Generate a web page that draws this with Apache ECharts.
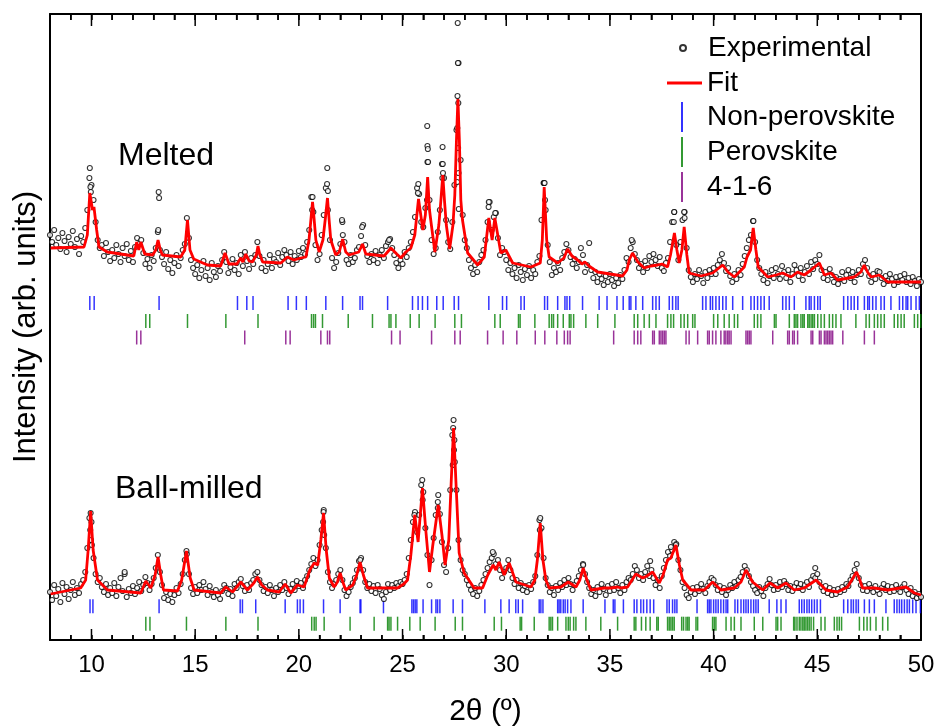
<!DOCTYPE html>
<html><head><meta charset="utf-8">
<script src="https://cdn.jsdelivr.net/npm/echarts@6/dist/echarts.min.js"></script>
<style>html,body{margin:0;padding:0;background:#fff}#chart{width:939px;height:728px}</style>
</head><body><div id="chart"></div>
<script>
// ---------------- DATA ----------------
const X_START = 8, X_STEP = 0.1;   // 2theta grid of the experimental scans
const xMajorTicks = [10, 15, 20, 25, 30, 35, 40, 45, 50];
const X_MIN = 8, X_MAX = 50, X_MINOR = 1;

const meltedExp = [
405,398,410,395,402,391,407,399,388,403,
396,409,393,401,386,404,398,412,430,462,
455,440,418,400,392,395,384,397,388,379,
390,382,395,386,378,392,384,396,380,389,
378,393,402,396,400,387,376,381,372,385,
379,392,408,390,383,376,388,371,380,367,
377,385,374,382,390,396,422,402,380,372,
366,375,362,370,379,364,372,360,377,368,
363,374,369,380,388,378,367,373,381,370,
377,366,385,374,388,379,371,382,376,385,
398,384,372,380,369,376,385,372,381,378,
387,375,383,390,385,379,388,376,384,380,
389,383,392,386,398,410,443,428,395,380,
386,405,425,452,430,400,382,372,378,387,
396,418,398,380,376,385,378,382,390,393,
404,415,395,384,378,386,380,389,377,385,
390,382,394,398,401,392,385,377,372,380,
376,388,383,392,398,408,423,452,446,418,
413,432,478,440,400,386,392,408,430,476,
462,420,398,391,418,455,510,577,480,425,
400,392,380,372,366,375,368,378,385,390,
400,418,438,410,423,427,402,385,392,388,
380,370,377,366,372,362,375,368,360,371,
365,374,362,370,366,378,384,420,457,430,
395,378,365,372,368,377,370,382,388,396,
390,383,376,381,372,378,392,385,368,375,
397,370,362,368,358,366,361,355,364,358,
366,360,354,362,357,365,361,370,382,378,
392,398,386,380,372,376,368,379,372,384,
378,386,380,374,383,372,369,377,382,398,
418,428,395,380,398,420,428,392,370,363,
358,366,361,370,364,357,368,362,370,366,
372,366,375,380,386,377,369,372,364,358,
366,361,370,365,376,384,392,400,405,419,
398,380,372,366,360,368,357,364,370,362,
372,366,361,374,368,362,370,358,366,375,
370,364,372,360,368,374,366,378,371,380,
376,385,370,362,368,360,371,365,358,363,
356,361,368,359,365,370,362,368,358,365,
370,366,376,380,372,364,358,366,361,369,
368,362,356,364,359,366,361,355,363,358,
364,360,366,358,362,356,363,359,354,361,
358];

const meltedExtra = [[9.92,472],[9.95,453],[9.97,448],[13.24,448],[13.26,442],[13.22,410],[20.66,443],[20.64,430],
[21.37,472],[21.36,456],[21.4,449],[25.76,456],[25.74,447],[26.19,514],[26.2,494],[26.22,491],[26.23,478],[26.18,440],
[26.93,493],[26.94,476],[26.95,467],[26.92,462],[27.66,617],[27.67,577],[27.65,544],[27.64,512],[27.69,537],[27.68,492],
[27.7,467],[27.63,458],[27.71,431],[29.16,438],[29.15,433],[29.47,427],[31.82,457],[31.85,457],[31.87,440],[38.1,428],
[38.08,418],[38.58,428],[38.6,422],[41.92,419],[36.05,400],[24.35,400],[22.08,420],[22.12,405],[23.05,413]];

const ballExp = [
48,40,55,44,51,38,57,46,53,41,
50,58,45,52,47,56,60,68,92,122,
118,82,66,58,62,53,48,56,45,52,
47,57,44,53,62,49,66,43,51,47,
54,46,52,58,49,55,63,57,50,56,
62,72,85,68,55,42,48,40,46,38,
45,52,47,56,66,80,86,66,52,46,
53,47,55,50,58,51,45,54,48,43,
50,45,41,49,55,52,46,51,44,56,
52,58,61,54,49,55,50,57,60,66,
68,60,55,49,53,47,55,50,44,52,
48,55,50,58,52,46,51,56,50,59,
54,57,52,60,64,70,76,82,74,80,
95,110,130,92,68,58,52,56,60,66,
70,60,50,44,48,53,57,62,70,79,
82,70,58,52,56,49,54,47,55,51,
45,41,48,56,50,55,52,57,54,58,
56,60,66,82,100,118,128,108,125,155,
148,112,85,55,80,102,125,138,126,98,
75,68,92,150,205,200,150,100,80,70,
66,60,55,50,46,52,44,49,55,60,
66,72,78,82,86,76,80,70,62,68,
72,80,70,62,56,60,52,57,50,54,
48,55,51,58,64,85,120,112,82,62,
55,48,52,45,54,50,57,53,60,55,
62,56,50,55,59,64,70,76,66,58,
52,46,50,44,53,48,56,51,45,54,
49,56,50,58,52,47,55,50,58,62,
60,66,74,70,62,66,60,68,74,64,
70,62,55,60,52,64,72,80,88,84,
90,98,96,80,70,58,52,45,42,48,
52,46,53,49,56,51,47,54,58,62,
60,55,50,54,48,52,45,50,55,52,
58,54,60,63,68,74,70,64,58,54,
50,47,53,49,44,52,56,61,55,50,
55,51,58,53,59,56,50,54,49,53,
57,52,56,50,55,58,53,60,64,62,
66,58,53,49,54,47,52,45,50,46,
51,48,53,50,56,54,60,64,70,76,
62,55,50,54,49,56,52,48,54,50,
46,52,56,50,54,48,53,49,55,51,
48,53,56,50,46,52,44,48,42,46,
43];

const ballExtra = [[9.96,127],[9.94,110],[9.98,100],[10.02,95],[21.19,128],[21.17,118],[21.22,105],[25.57,125],
[25.95,160],[25.97,140],[26.72,145],[26.7,132],[27.46,220],[27.44,212],[27.48,190],[27.42,175],[27.52,178],
[31.64,122],[31.62,110],[38.18,95],[37.94,93],[33.71,75],[22.96,80],[14.58,89],[11.6,68],[36.94,79],[44.9,72],[29.35,88]];

const meltedFit = [[8.03,392],[9.64,393],[9.8,405],[9.92,447],[10.05,430],[10.12,433],[10.25,410],[10.36,393],[10.77,388],
[12.04,384],[12.18,398],[12.28,390],[12.38,398],[12.57,386],[12.95,385],[13.1,390],[13.21,400],[13.32,390],[13.42,385],
[14.3,383],[14.5,390],[14.63,420],[14.75,390],[14.93,381],[15.59,375],[16.23,374],[16.44,387],[16.63,376],[17.01,376],
[17.2,382],[17.3,378],[17.44,386],[17.6,379],[17.76,378],[17.95,385],[18.03,394],[18.12,385],[18.26,378],[19.13,377],
[19.45,383],[19.76,380],[20.09,382],[20.34,383],[20.49,400],[20.58,420],[20.66,438],[20.74,420],[20.82,400],[20.98,388],
[21.16,400],[21.28,422],[21.38,442],[21.46,420],[21.54,400],[21.78,385],[21.95,388],[22.11,401],[22.26,388],[22.42,385],
[22.89,388],[23.07,396],[23.23,386],[24.11,384],[24.44,392],[24.72,386],[24.92,382],[25.16,388],[25.4,392],[25.59,405],
[25.77,441],[25.98,410],[26.1,425],[26.21,463],[26.3,430],[26.39,415],[26.56,388],[26.75,415],[26.85,440],[26.94,465],
[27.02,440],[27.11,415],[27.27,391],[27.43,415],[27.52,445],[27.6,500],[27.67,541],[27.74,500],[27.81,440],[27.89,420],
[28.14,387],[28.62,375],[28.94,383],[29.16,422],[29.32,400],[29.45,422],[29.74,387],[29.98,390],[30.31,377],[31.19,373],
[31.64,377],[31.74,400],[31.83,453],[31.95,400],[32.07,383],[32.48,377],[32.78,382],[32.96,391],[33.17,384],[33.44,380],
[33.65,376],[33.79,378],[33.99,374],[34.41,368],[35.61,364],[35.82,370],[35.93,380],[36.09,387],[36.35,378],[36.65,372],
[36.98,374],[37.3,375],[37.51,376],[37.78,373],[37.92,385],[38.11,407],[38.23,390],[38.34,377],[38.47,390],[38.58,413],
[38.71,385],[38.82,367],[39.39,364],[39.95,367],[40.44,375],[40.69,368],[41.0,363],[41.48,373],[41.61,383],[41.78,390],
[41.91,412],[42.04,390],[42.15,373],[42.61,363],[43.01,365],[43.33,367],[43.73,363],[44.05,368],[44.37,365],[44.7,370],
[45.1,377],[45.34,365],[45.66,367],[45.98,360],[46.78,363],[47.1,368],[47.26,375],[47.42,368],[47.59,363],[47.99,365],
[48.4,358],[50.0,358]];

const ballFit = [[8.03,46],[9.48,52],[9.72,60],[9.84,90],[9.96,129],[10.08,90],[10.29,60],[10.77,50],[12.38,47],[12.62,59],
[12.86,52],[13.07,65],[13.21,83],[13.34,65],[13.47,50],[14.15,49],[14.35,60],[14.58,89],[14.76,62],[14.95,50],[16.23,47],
[16.48,53],[16.8,48],[17.2,58],[17.52,50],[17.83,57],[18.0,63],[18.21,55],[18.49,50],[19.05,48],[19.34,56],[19.61,47],
[19.93,55],[20.25,53],[20.53,70],[20.74,77],[20.91,75],[21.06,100],[21.19,127],[21.32,90],[21.47,62],[21.7,53],[21.86,58],
[21.99,67],[22.12,58],[22.26,50],[22.6,55],[22.79,65],[22.95,78],[23.11,65],[23.31,52],[24.76,52],[25.06,56],[25.24,60],
[25.4,85],[25.59,125],[25.75,98],[25.96,152],[26.12,110],[26.3,68],[26.46,95],[26.72,135],[26.9,105],[27.05,75],[27.23,100],
[27.35,160],[27.46,212],[27.57,160],[27.73,87],[27.97,67],[28.45,52],[28.86,52],[29.11,65],[29.37,75],[29.5,70],[29.66,78],
[29.9,65],[30.14,77],[30.47,58],[31.19,53],[31.38,60],[31.5,80],[31.64,117],[31.77,80],[31.91,60],[32.07,52],[32.64,53],
[32.99,58],[33.36,53],[33.55,60],[33.71,72],[33.89,60],[34.08,50],[34.72,52],[35.05,52],[35.37,53],[35.53,52],[35.85,53],
[36.25,66],[36.58,62],[36.78,64],[37.06,68],[37.38,57],[37.56,65],[37.78,80],[37.94,82],[38.18,95],[38.35,75],[38.51,60],
[38.91,50],[39.55,50],[39.95,58],[40.35,50],[41.0,52],[41.32,58],[41.56,70],[41.88,58],[42.37,50],[42.72,57],[43.09,52],
[43.49,57],[43.89,50],[44.37,52],[44.94,60],[45.42,50],[45.98,48],[46.46,53],[46.72,62],[46.89,68],[47.05,60],[47.18,52],
[47.75,52],[48.4,50],[49.28,53],[49.68,47],[50.0,45]];

// Bragg reflection positions (2theta)
const meltedNonPerov = [9.92,10.13,13.26,17.04,17.49,17.79,19.48,19.88,20.36,21.30,22.11,22.95,23.07,24.28,25.48,25.75,25.96,
26.21,26.65,26.96,27.49,27.70,29.16,29.82,30.02,30.71,30.87,31.85,31.99,32.48,32.83,32.93,33.06,33.68,34.48,34.86,35.34,35.64,
35.93,36.01,36.25,36.58,37.06,37.22,37.38,37.86,38.02,38.18,38.29,39.47,39.63,39.84,39.95,40.11,40.27,40.44,40.60,40.92,41.40,
41.80,41.96,42.12,42.28,42.44,42.68,43.33,43.49,43.65,43.89,44.45,44.61,44.70,44.86,45.02,45.14,46.27,46.47,46.63,46.78,46.95,
47.27,47.43,47.51,47.67,47.83,48.07,48.23,48.55,48.96,49.12,49.28,49.36,49.52,49.76,49.92];
const meltedPerov = [12.62,12.81,14.63,16.48,18.03,20.61,20.71,20.80,21.14,22.38,23.55,24.35,24.44,24.68,25.37,25.80,26.57,
27.52,27.84,29.45,29.71,30.59,30.67,31.38,32.07,32.19,32.28,32.48,32.75,33.04,33.12,33.25,33.84,34.41,35.24,36.17,36.34,36.65,
36.90,37.22,37.78,37.94,38.07,38.42,38.58,38.75,38.99,39.10,40.00,40.20,40.51,40.75,41.00,41.16,41.96,42.12,42.28,42.93,43.01,
43.65,43.89,43.97,44.05,44.21,44.30,44.37,44.54,44.61,44.70,44.78,44.86,45.02,45.18,45.34,45.58,45.74,45.90,46.14,46.86,47.35,
47.51,47.75,47.91,48.07,48.23,48.71,48.88,49.04,49.19,49.68,49.84,49.99];
const melted416 = [12.18,12.38,17.39,19.37,19.58,21.06,21.38,21.49,24.47,24.88,26.40,27.52,27.78,29.10,29.85,30.51,31.40,31.86,
32.44,32.80,32.96,33.08,35.18,36.17,36.34,36.49,37.06,37.14,37.38,37.46,37.54,37.62,37.70,38.67,38.82,39.23,39.71,39.79,39.95,
40.11,40.35,40.51,40.59,40.68,40.75,40.84,41.56,41.64,41.72,41.80,42.85,43.57,43.65,43.81,43.89,44.05,44.70,44.78,45.10,45.18,
45.34,45.42,45.50,45.58,45.66,45.74,46.23,47.27,47.75];
const ballNonPerov = [9.93,10.07,13.26,17.17,17.28,17.92,19.34,19.93,20.06,20.22,21.19,21.99,22.95,22.99,24.08,25.45,25.53,
25.61,25.69,25.99,26.40,26.61,26.69,26.80,27.44,27.89,28.97,29.74,30.14,30.46,30.58,30.79,31.59,31.67,31.77,32.48,32.55,32.63,
32.75,32.84,32.96,33.12,33.71,34.76,35.16,35.24,35.65,36.17,36.30,36.49,36.62,36.78,36.94,37.11,37.75,37.86,38.02,38.13,38.23,
39.20,39.71,39.79,39.87,40.00,40.11,40.22,40.35,40.48,40.60,40.68,41.03,41.16,41.32,41.45,41.56,41.67,41.80,41.93,42.04,42.15,
42.68,43.05,43.25,43.49,44.13,44.25,44.37,44.50,44.61,44.73,44.86,44.99,45.15,46.27,46.47,46.63,46.74,46.87,46.98,47.27,47.51,
47.75,48.31,48.71,48.84,48.96,49.07,49.20,49.33,49.44,49.60,49.76,49.97];
const ballPerov = [12.62,12.82,14.58,16.48,18.03,20.62,20.74,20.83,21.22,22.47,23.63,24.28,24.35,24.44,24.76,25.35,25.85,26.57,
27.54,27.89,29.42,29.77,30.67,30.74,31.35,32.07,32.15,32.23,32.48,32.88,32.99,33.08,33.25,33.36,33.84,34.56,35.37,36.17,36.25,
36.52,36.73,36.94,37.26,37.33,37.78,37.86,37.94,38.02,38.10,38.46,38.55,38.67,38.75,38.82,39.15,39.23,39.95,40.03,40.11,40.60,
40.84,41.00,41.32,41.96,42.37,43.01,43.09,43.25,43.86,43.92,44.02,44.13,44.21,44.30,44.37,44.45,44.53,44.61,44.70,44.82,45.18,
45.37,45.82,45.95,46.06,46.17,47.03,47.24,47.40,47.56,47.83,48.15,48.40];

// ---------------- STYLE / LAYOUT ----------------
const FONT = "'Liberation Sans', Arial, sans-serif";
const ROW = {mNP: 337, mP: 319, m416: 302.5, bNP: 33.7, bP: 16.3};   // vertical level of each tick row
const Y_MAX = 626;
const C = {np: '#0000ff', p: '#008000', q: '#800080', fit: '#ff0000'};

const onGrid = vals => vals.map((v, i) => [+(X_START + i * X_STEP).toFixed(2), v]);

function expSeries(pts) {
  return {type: 'scatter', name: 'Experimental', data: pts, symbol: 'circle', symbolSize: 5,
    itemStyle: {color: '#fff', borderColor: '#000', borderWidth: 1.1}, z: 3, silent: true};
}
function fitSeries(pts) {
  return {type: 'line', name: 'Fit', data: pts, symbol: 'none', smooth: false,
    lineStyle: {color: C.fit, width: 2.8}, itemStyle: {color: C.fit}, z: 4, silent: true};
}
function tickSeries(name, xs, level, color) {
  return {type: 'scatter', name, data: xs.map(x => [x, level]), symbol: 'rect', symbolSize: [1.5, 14],
    itemStyle: {color}, z: 2, silent: true};
}

const mkLine = () => ({color: '#000', width: 2});
const mkTick = () => ({color: '#000', width: 1.5});
const baseX = (g) => ({type: 'value', gridIndex: g, min: X_MIN, max: X_MAX, splitLine: {show: false}});
const legendText = () => ({fontSize: 28, fontFamily: FONT, color: '#000'});
const plotRect = () => ({left: 50, right: 18, top: 14, bottom: 88, outerBoundsMode: 'none'});

const textGraphics = [
  {type: 'text', left: 118, top: 140, silent: true,
    style: {text: 'Melted', fill: '#000', font: '32px ' + FONT}},
  {type: 'text', left: 115, top: 473, silent: true,
    style: {text: 'Ball-milled', fill: '#000', font: '32px ' + FONT}}
];

const option = {
  animation: false,
  backgroundColor: '#fff',
  grid: [plotRect(), plotRect()],
  xAxis: [
    Object.assign(baseX(0), {show: false}),
    Object.assign(baseX(1), {position: 'bottom', interval: X_MINOR,
      axisLine: {show: true, onZero: false, lineStyle: mkLine()},
      axisTick: {show: true, inside: true, length: 5, lineStyle: mkTick()},
      axisLabel: {show: false},
      name: '2\u03b8 (\u00ba)', nameLocation: 'middle', nameGap: 57,
      nameTextStyle: {fontSize: 30, fontFamily: FONT, color: '#000'}}),
    Object.assign(baseX(1), {position: 'bottom',
      axisLine: {show: false, onZero: false},
      axisTick: {show: false},
      axisLabel: {show: true, customValues: xMajorTicks, fontSize: 24, fontFamily: FONT, color: '#000', margin: 13}}),
    Object.assign(baseX(1), {position: 'top', interval: X_MINOR,
      axisLine: {show: true, onZero: false, lineStyle: mkLine()},
      axisTick: {show: true, inside: true, length: 6, lineStyle: mkTick()},
      axisLabel: {show: false}})
  ],
  yAxis: [
    {type: 'value', gridIndex: 0, min: 0, max: Y_MAX, show: false, splitLine: {show: false}},
    {type: 'value', gridIndex: 1, min: 0, max: Y_MAX, position: 'left', splitLine: {show: false},
      axisLine: {show: true, onZero: false, lineStyle: mkLine()},
      axisTick: {show: false}, axisLabel: {show: false},
      name: 'Intensity (arb. units)', nameLocation: 'middle', nameGap: 8, nameRotate: 90,
      nameTextStyle: {fontSize: 31, fontFamily: FONT, color: '#000'}},
    {type: 'value', gridIndex: 1, min: 0, max: Y_MAX, position: 'right', splitLine: {show: false},
      axisLine: {show: true, onZero: false, lineStyle: mkLine()},
      axisTick: {show: false}, axisLabel: {show: false}}
  ],
  legend: [
    {data: [{name: 'Experimental', icon: 'circle'}], left: 679, top: 34, orient: 'vertical', padding: 0,
      itemWidth: 40, itemHeight: 6, selectedMode: false, textStyle: legendText()},
    {data: [{name: 'Fit', icon: 'rect'}], left: 667, top: 69, orient: 'vertical', padding: 0,
      itemWidth: 35, itemHeight: 2.8, selectedMode: false, textStyle: legendText()},
    {data: [{name: 'Non-perovskite', icon: 'path://M0,0H2V30H0Z'},
            {name: 'Perovskite', icon: 'path://M0,0H2V30H0Z'},
            {name: '4-1-6', icon: 'path://M0,0H2V30H0Z'}],
      left: 681, top: 102, orient: 'vertical', padding: 0, itemGap: 5,
      itemWidth: 40, itemHeight: 30, selectedMode: false, textStyle: legendText()}
  ],
  graphic: textGraphics,
  series: [
    tickSeries('Non-perovskite', meltedNonPerov, ROW.mNP, C.np),
    tickSeries('Perovskite', meltedPerov, ROW.mP, C.p),
    tickSeries('4-1-6', melted416, ROW.m416, C.q),
    tickSeries('Non-perovskite', ballNonPerov, ROW.bNP, C.np),
    tickSeries('Perovskite', ballPerov, ROW.bP, C.p),
    expSeries(onGrid(meltedExp).concat(meltedExtra)),
    expSeries(onGrid(ballExp).concat(ballExtra)),
    fitSeries(meltedFit),
    fitSeries(ballFit)
  ].map(s => Object.assign(s, {xAxisIndex: 0, yAxisIndex: 0}))
};

const chart = echarts.init(document.getElementById('chart'), null, {renderer: 'canvas'});
chart.setOption(option);

// Frame tick marks (inside, on bottom and top edges), positioned through the chart's own x scale
const tickEls = [];
for (let v = X_MIN; v <= X_MAX; v += X_MINOR) {
  const major = xMajorTicks.indexOf(v) >= 0;
  const pb = chart.convertToPixel({gridIndex: 0}, [v, 0]);
  const pt = chart.convertToPixel({gridIndex: 0}, [v, Y_MAX]);
  if (!pb || !pt) continue;
  tickEls.push({type: 'line', silent: true, z: 10,
    shape: {x1: pb[0], y1: pb[1], x2: pb[0], y2: pb[1] - (major ? 11 : 5)},
    style: {stroke: '#000', lineWidth: 1.5}});
  tickEls.push({type: 'line', silent: true, z: 10,
    shape: {x1: pt[0], y1: pt[1], x2: pt[0], y2: pt[1] + (major ? 12 : 6)},
    style: {stroke: '#000', lineWidth: 1.5}});
}
chart.setOption({graphic: textGraphics.concat(tickEls)});
</script>
</body></html>
